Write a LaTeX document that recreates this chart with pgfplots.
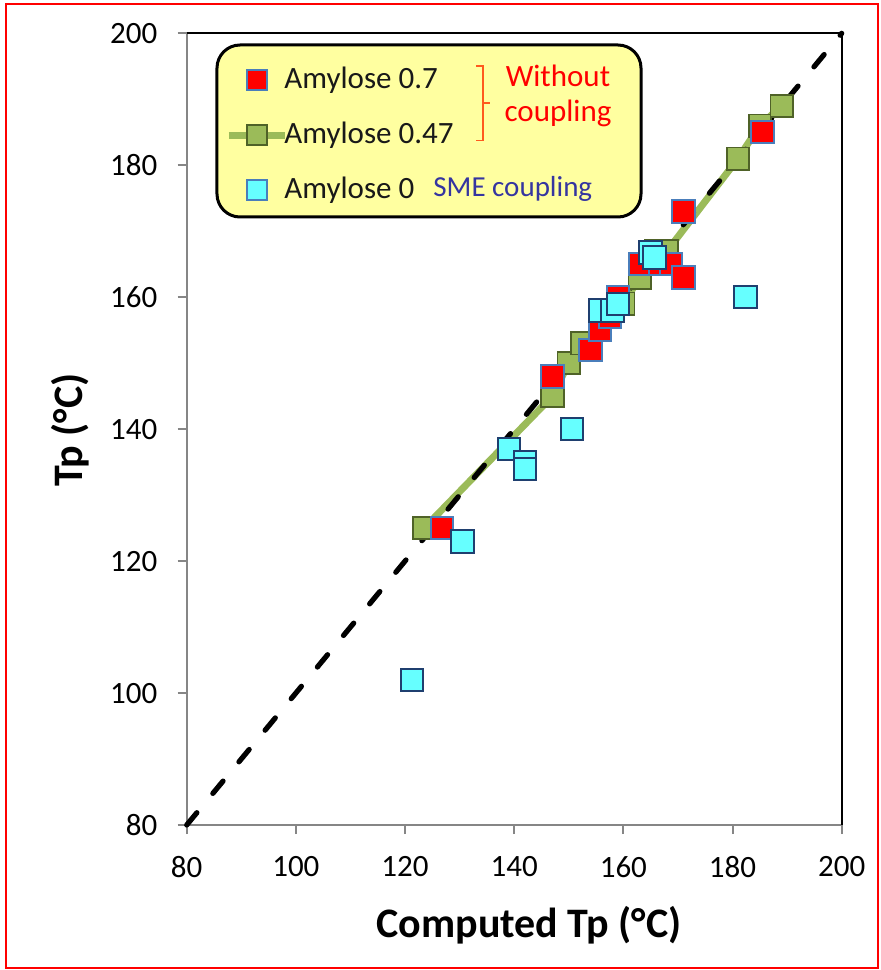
\documentclass[border=0pt]{standalone}
\usepackage{pgfplots}
\pgfplotsset{compat=1.18}
\usepackage{fontspec}
\setmainfont{Carlito}

\definecolor{grn}{HTML}{9BBB59}
\definecolor{grnd}{HTML}{4F6228}
\definecolor{redb}{HTML}{4A7EBB}
\definecolor{cyf}{HTML}{66FFFF}
\definecolor{cyb}{HTML}{1F3F6F}
\definecolor{axg}{HTML}{868686}
\definecolor{legy}{HTML}{FFFFA0}
\definecolor{brk}{HTML}{FF5A1E}
\definecolor{smeb}{HTML}{3535A0}

\pgfplotstableread{
x y
123.5 125
147 145
150 150
152.5 153
160 159
163 163
163.5 165
166 167
168 167
181 181
185 186
189 189
}\greendata

\pgfplotstableread{
x y
126.8 125
147 148
154 152
155.7 155
157.5 157
159 160
163 165
166.8 165
168.7 165
171 163
171 173
185.5 185
}\reddata

\pgfplotstableread{
x y
121.3 102
130.5 123
139 137
142 135
142 134
150.6 140
155.7 158
158 158
159 159
165 166.8
165.7 166
182.4 160
}\cyandata

\begin{document}
\begin{tikzpicture}
\path[use as bounding box] (-93.35pt,-72.5pt) rectangle (347.15pt,412.5pt);
\draw[red, line width=0.9pt] (-90.35pt,-71.5pt) rectangle (345.65pt,410.5pt);
\draw[black, line width=1.5pt, fill=legy, rounded corners=11.5pt] (15.15pt,304pt) rectangle (227.15pt,390pt);
\begin{axis}[
  at={(0,0)}, anchor=south west,
  scale only axis, width=327.5pt, height=395.85pt,
  xmin=80, xmax=200, ymin=80, ymax=200,
  xtick={80,100,...,200}, ytick={80,100,...,200},
  xtick pos=left, ytick pos=left,
  tick align=outside, major tick length=4.5pt,
  tick style={axg, line width=1pt},
  axis line style={draw=none},
  /pgf/number format/assume math mode=true,
  ticklabel style={font=\fontsize{15.5}{18}\selectfont, inner sep=0pt},
  yticklabel style={xshift=-10pt},
  xticklabel style={yshift=-11pt},
  xlabel={Computed Tp (°C)}, ylabel={Tp (°C)},
  label style={font=\fontsize{21}{25}\selectfont\bfseries},
  xlabel style={at={(axis description cs:0.5226,-0.1263)}, anchor=center},
  ylabel style={at={(axis description cs:-0.178,0.4987)}, anchor=center},
  clip=false,
  legend image code/.code={\draw[mark repeat=2,mark phase=2,#1] plot coordinates {(0pt,0pt)(14pt,0pt)(28pt,0pt)};},
  legend style={at={(axis cs:87.02,184.58)}, anchor=west, draw=none, fill=none,
    inner sep=0pt, font=\fontsize{15.5}{18}\selectfont, row sep=13.5pt, column sep=-2pt,
    nodes={inner sep=0pt, text height=11pt, text depth=3pt, text=black!90}, cells={anchor=west}},
]
\addlegendimage{only marks, mark=square*, mark size=4.9pt, mark options={fill=red, draw=redb, line width=0.8pt}}
\addlegendimage{grn, line width=3.5pt, mark=square*, mark size=4.9pt, mark options={solid, fill=grn, draw=grnd, line width=0.8pt}}
\addlegendimage{only marks, mark=square*, mark size=4.9pt, mark options={fill=cyf, draw=redb, line width=0.8pt}}
\legend{Amylose 0.7, Amylose 0.47, Amylose 0}

\draw[axg, line width=1pt] (rel axis cs:0,1) -- (rel axis cs:0,0) -- (rel axis cs:1,0);
\draw[black, line width=0.8pt] (rel axis cs:0,1) -- (rel axis cs:1,1) -- (rel axis cs:1,0);

\addplot[forget plot, grn, line width=3.5pt, mark=square*, mark size=5.6pt,
  mark options={solid, fill=grn, draw=grnd, line width=0.9pt}] table {\greendata};
\addplot[forget plot, black, line width=2.6pt, line cap=round, dash pattern=on 8pt off 12.5pt] coordinates {(80,80) (200,200)};
\addplot[forget plot, only marks, mark=square*, mark size=5.6pt,
  mark options={fill=red, draw=redb, line width=1pt}] table {\reddata};
\addplot[forget plot, only marks, mark=square*, mark size=5.6pt,
  mark options={fill=cyf, draw=cyb, line width=1pt}] table {\cyandata};
\end{axis}
\draw[brk, line width=0.7pt] (144.8pt,379.5pt) -- (148.15pt,379.5pt) -- (148.15pt,342.15pt) -- (144.8pt,342.15pt);
\draw[brk, line width=0.7pt] (148.15pt,361pt) -- (151.6pt,361pt);
\node[red, anchor=base, inner sep=0pt, font=\fontsize{15.5}{18}\selectfont] at (185.65pt,369.2pt) {Without};
\node[red, anchor=base, inner sep=0pt, font=\fontsize{15.5}{18}\selectfont] at (185.65pt,351.7pt) {coupling};
\node[smeb, anchor=base west, inner sep=0pt, font=\fontsize{14.5}{17}\selectfont] at (123.15pt,314.2pt) {SME coupling};
\end{tikzpicture}
\end{document}
